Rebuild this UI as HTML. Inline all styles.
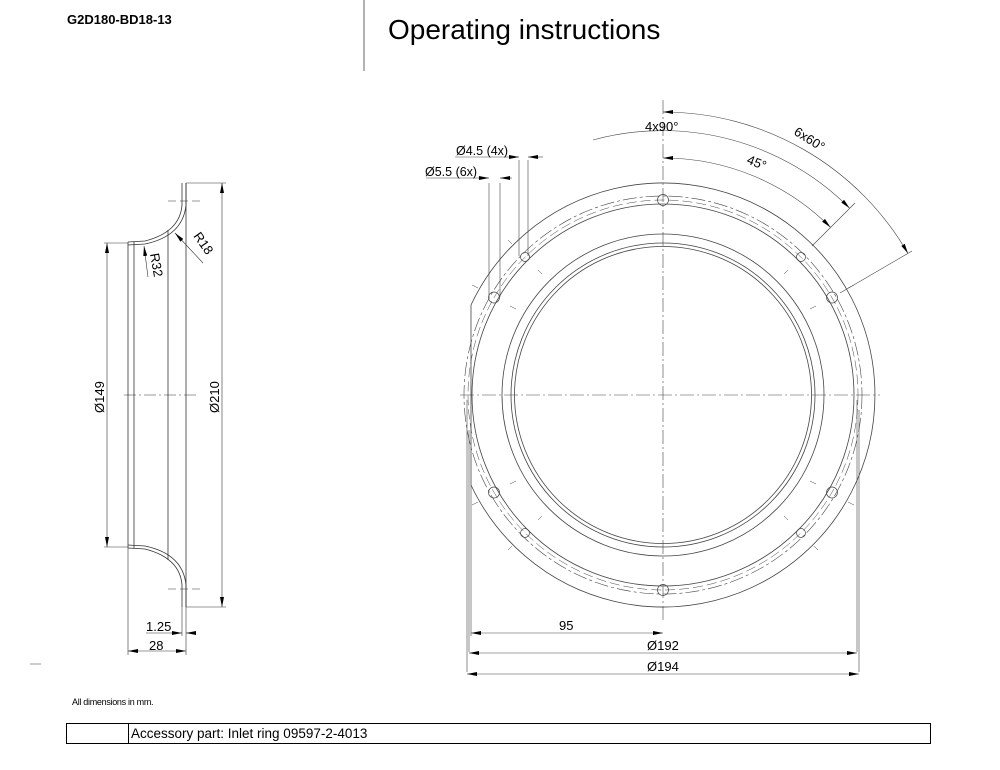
<!DOCTYPE html>
<html><head><meta charset="utf-8"><style>
body{margin:0;background:#fff;width:1000px;height:770px;overflow:hidden}
svg{position:absolute;left:0;top:0}
text{font-family:"Liberation Sans",sans-serif;fill:#000}
</style></head><body>
<svg width="1000" height="770" viewBox="0 0 1000 770">
<defs>
<marker id="a" viewBox="0 0 10 4" refX="10" refY="2" markerWidth="10" markerHeight="4" orient="auto-start-reverse" markerUnits="userSpaceOnUse"><path d="M0,0L10,2L0,4z" fill="#000"/></marker>
</defs>
<text x="67" y="24" font-size="13" font-weight="bold">G2D180-BD18-13</text>
<line x1="364" y1="0" x2="364" y2="71" stroke="#666" stroke-width="1"/>
<text x="388" y="39" font-size="28">Operating instructions</text>

<!-- left view -->
<g fill="none" stroke="#333" stroke-width="0.8">
<path d="M182,183 L182,205 Q180,232 145,241 L128,242"/>
<path d="M186,183 L186,205 Q183,236 145,244 L128,245"/>
<path d="M182,607 L182,585 Q180,558 145,549 L128,548"/>
<path d="M186,607 L186,585 Q183,554 145,546 L128,545"/>
<line x1="186" y1="183" x2="186" y2="607"/>
<line x1="128" y1="242" x2="128" y2="548"/>
<line x1="134" y1="242" x2="134" y2="548"/>
<line x1="168" y1="230" x2="168" y2="560"/>
<line x1="186" y1="183" x2="226" y2="183" stroke-width="0.6"/>
<line x1="186" y1="607" x2="226" y2="607" stroke-width="0.6"/>
<line x1="104" y1="243" x2="128" y2="243" stroke-width="0.6"/>
<line x1="104" y1="547" x2="128" y2="547" stroke-width="0.6"/>
<line x1="222" y1="183" x2="222" y2="607" stroke-width="0.6" marker-start="url(#a)" marker-end="url(#a)"/>
<line x1="107" y1="243" x2="107" y2="547" stroke-width="0.6" marker-start="url(#a)" marker-end="url(#a)"/>
<line x1="124" y1="395" x2="196" y2="395" stroke-dasharray="12,3,2,3" stroke-width="0.5"/>
<line x1="168" y1="201" x2="200" y2="201" stroke-dasharray="8,4" stroke-width="0.5"/>
<line x1="168" y1="589" x2="200" y2="589" stroke-dasharray="8,4" stroke-width="0.5"/>
<line x1="203" y1="263" x2="175" y2="233" stroke-width="0.6" marker-end="url(#a)"/>
<line x1="148" y1="277" x2="144" y2="246" stroke-width="0.6" marker-end="url(#a)"/>
<line x1="128" y1="548" x2="128" y2="655" stroke-width="0.6"/>
<line x1="186" y1="607" x2="186" y2="655" stroke-width="0.6"/>
<line x1="182" y1="607" x2="182" y2="636" stroke-width="0.6"/>
<line x1="128" y1="651" x2="186" y2="651" stroke-width="0.6" marker-start="url(#a)" marker-end="url(#a)"/>
<line x1="170" y1="633" x2="182" y2="633" stroke-width="0.6" marker-end="url(#a)"/>
<line x1="196" y1="633" x2="186" y2="633" stroke-width="0.6" marker-end="url(#a)"/>
<line x1="146" y1="633" x2="170" y2="633" stroke-width="0.6"/>
</g>
<text x="146" y="631" font-size="13">1.25</text>
<text x="149" y="650" font-size="13">28</text>
<text transform="translate(193,236) rotate(55)" font-size="13">R18</text>
<text transform="translate(150,254) rotate(80)" font-size="13">R32</text>
<text transform="translate(104,413) rotate(-90)" font-size="13">Ø149</text>
<text transform="translate(219,413) rotate(-90)" font-size="13">Ø210</text>

<!-- right view -->
<g fill="none" stroke="#444" stroke-width="0.8">
<path d="M471,305 A212,212 0 1 1 471,485 Z"/>
<circle cx="663" cy="395" r="161"/>
<circle cx="663" cy="395" r="152"/>
<circle cx="663" cy="395" r="148.5"/>
<circle cx="663" cy="395" r="191"/>
<circle cx="663" cy="395" r="199" stroke-dasharray="14,3,3,3" stroke-width="0.6"/>
<circle cx="663" cy="395" r="195" stroke-dasharray="10,4" stroke-width="0.5"/>
<line x1="663" y1="100" x2="663" y2="622" stroke-dasharray="14,3,2,3" stroke-width="0.6"/>
<line x1="460" y1="395" x2="880" y2="395" stroke-dasharray="14,3,2,3" stroke-width="0.6"/>
<!-- holes -->
<g stroke-width="0.7">
<circle cx="663" cy="200" r="5.5"/><circle cx="663" cy="590" r="5.5"/>
<circle cx="494" cy="297.5" r="5.5"/><circle cx="832" cy="297.5" r="5.5"/>
<circle cx="494" cy="492.5" r="5.5"/><circle cx="832" cy="492.5" r="5.5"/>
<circle cx="525" cy="257" r="4.5"/><circle cx="801" cy="257" r="4.5"/>
<circle cx="525" cy="533" r="4.5"/><circle cx="801" cy="533" r="4.5"/>
</g>
<g stroke-width="0.5">
<line x1="478" y1="288" x2="472" y2="285"/><line x1="510" y1="306" x2="516" y2="309"/>
<line x1="848" y1="288" x2="854" y2="285"/><line x1="816" y1="306" x2="810" y2="309"/>
<line x1="478" y1="502" x2="472" y2="505"/><line x1="510" y1="484" x2="516" y2="481"/>
<line x1="848" y1="502" x2="854" y2="505"/><line x1="816" y1="484" x2="810" y2="481"/>
<line x1="512" y1="244" x2="508" y2="240"/><line x1="538" y1="270" x2="542" y2="274"/>
<line x1="814" y1="244" x2="818" y2="240"/><line x1="788" y1="270" x2="784" y2="274"/>
<line x1="512" y1="546" x2="508" y2="550"/><line x1="538" y1="520" x2="542" y2="516"/>
<line x1="814" y1="546" x2="818" y2="550"/><line x1="788" y1="520" x2="784" y2="516"/>
</g>
<!-- angle dims -->
<g stroke-width="0.6">
<path d="M663,112 A283,283 0 0 1 908,253.5" marker-start="url(#a)" marker-end="url(#a)"/>
<path d="M663,158 A237,237 0 0 1 830.6,227.4" marker-start="url(#a)" marker-end="url(#a)"/>
<path d="M593,140 A264,264 0 0 1 849.7,208.3" marker-end="url(#a)"/>
<line x1="840" y1="293" x2="912" y2="251"/>
<line x1="812" y1="246" x2="855" y2="203"/>
<line x1="489" y1="183" x2="489" y2="297"/>
<line x1="500" y1="183" x2="500" y2="297"/>
<line x1="519" y1="160" x2="519" y2="256"/>
<line x1="528" y1="160" x2="528" y2="256"/>
<line x1="426" y1="178" x2="478" y2="178"/>
<line x1="478" y1="178" x2="489" y2="178" marker-end="url(#a)"/>
<line x1="512" y1="178" x2="500" y2="178" marker-end="url(#a)"/>
<line x1="455" y1="157" x2="509" y2="157"/>
<line x1="509" y1="157" x2="519" y2="157" marker-end="url(#a)"/>
<line x1="543" y1="157" x2="528" y2="157" marker-end="url(#a)"/>
<!-- bottom dims -->
<line x1="471" y1="485" x2="471" y2="636"/>
<line x1="469" y1="430" x2="469" y2="652"/>
<line x1="467" y1="400" x2="467" y2="672"/>
<line x1="857" y1="400" x2="857" y2="652"/>
<line x1="859" y1="410" x2="859" y2="672"/>
<line x1="471" y1="633" x2="663" y2="633" marker-start="url(#a)" marker-end="url(#a)"/>
<line x1="469" y1="653" x2="857" y2="653" marker-start="url(#a)" marker-end="url(#a)"/>
<line x1="467" y1="674" x2="859" y2="674" marker-start="url(#a)" marker-end="url(#a)"/>
</g>
</g>
<text x="645" y="131" font-size="13">4x90°</text>
<text transform="translate(793,134) rotate(32)" font-size="13">6x60°</text>
<text transform="translate(746,163) rotate(22)" font-size="13">45°</text>
<text x="456" y="155" font-size="12.5">Ø4.5 (4x)</text>
<text x="425" y="176" font-size="12.5">Ø5.5 (6x)</text>
<text x="559" y="630" font-size="13">95</text>
<text x="647" y="650" font-size="13">Ø192</text>
<text x="647" y="671" font-size="13">Ø194</text>

<line x1="30" y1="664" x2="41" y2="664" stroke="#999" stroke-width="1"/>
<text x="72" y="705" font-size="9" letter-spacing="-0.3">All dimensions in mm.</text>
<rect x="66.5" y="723.5" width="864" height="20" fill="none" stroke="#000" stroke-width="1"/>
<line x1="128.5" y1="723" x2="128.5" y2="744" stroke="#000" stroke-width="1"/>
<text x="131" y="738" font-size="13.5">Accessory part: Inlet ring 09597-2-4013</text>
</svg>
</body></html>
